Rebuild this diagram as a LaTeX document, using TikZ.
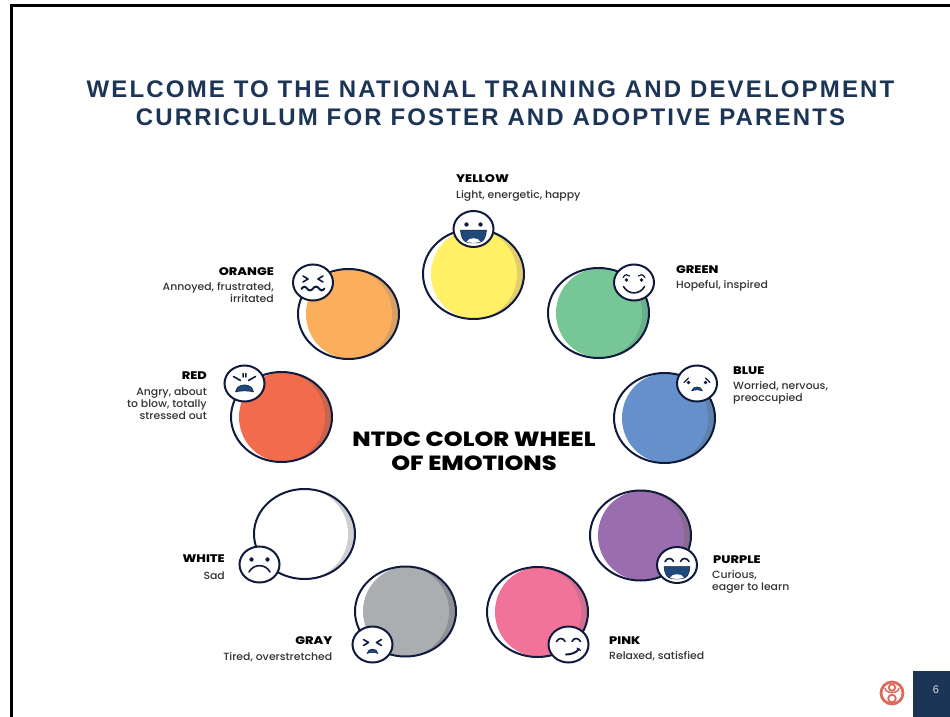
\documentclass[tikz,border=0pt]{standalone}
\usepackage{fontspec}
\setmainfont{Poppins Medium}[FakeStretch=1.04]
\newfontfamily\heavyfont{Poppins ExtraBold}[FakeStretch=1.17]
\newfontfamily\titlefont[LetterSpace=9]{Liberation Sans}
\newfontfamily\numfont{Liberation Sans}
\usetikzlibrary{shapes.geometric}
\definecolor{ink}{HTML}{0F1A3C}
\definecolor{navy}{HTML}{1C3557}
\definecolor{mouthblue}{HTML}{1D4A78}
\definecolor{logored}{HTML}{DE6A5A}
\tikzset{
  x=1pt,y=-1pt,
  outline/.style={draw=ink,line width=2pt},
  facebub/.style={ellipse,draw=ink,line width=2pt,fill=white,minimum width=40pt,minimum height=36pt,inner sep=0pt},
  feat/.style={draw=ink,line width=1.6pt,line cap=round,line join=round},
  mouthfill/.style={fill=mouthblue,draw=ink,line width=0.5pt,line join=round},
  lblname/.style={inner sep=0pt,font=\heavyfont\fontsize{11}{13}\selectfont,text=black},
  lbldesc/.style={inner sep=0pt,font=\fontsize{10.45}{12}\selectfont,text=black!80},
  headline/.style={inner sep=0pt,font=\titlefont\bfseries\fontsize{24}{28}\selectfont,text=navy},
  centre/.style={inner sep=0pt,align=center,font=\heavyfont\fontsize{20.5}{23.5}\selectfont,text=black}
}
% #1 name, #2 x, #3 y, #4 light colour, #5 dark colour
\newcommand{\wheeldisc}[5]{
  \definecolor{discl}{HTML}{#4}\definecolor{discd}{HTML}{#5}
  \begin{scope}[shift={(#2,#3)}]
    \fill[white] (0,0) ellipse [x radius=50.5,y radius=45];
    \begin{scope}
      \clip (0,0) ellipse [x radius=50.5,y radius=45];
      \fill[discd] (6,0) ellipse [x radius=48,y radius=45];
      \fill[discl] (0.5,0) ellipse [x radius=43,y radius=44.5];
    \end{scope}
    \node[ellipse,minimum width=101pt,minimum height=90pt,inner sep=0pt,outline] (#1) at (0,0) {};
  \end{scope}
}
\newcommand{\eyedots}[2]{\fill[ink] (-#1,#2) circle (2.2) (#1,#2) circle (2.2);}
\newcommand{\squint}[2]{\draw[feat] (-#1-3,#2-3) -- (-#1+2,#2) -- (-#1-3,#2+3) (#1+3,#2-3) -- (#1-2,#2) -- (#1+3,#2+3);}
\newcommand{\bigmouth}[2]{
  \draw[mouthfill] (-13,#1) .. controls (-12,#2+1) and (-5,#2) .. (0,#2) .. controls (5,#2) and (12,#2+1) .. (13,#1) -- cycle;
  \fill[white] (-7,#2-1.2) .. controls (-5,#2-6) and (5,#2-6) .. (7,#2-1.2) .. controls (3,#2+0.2) and (-3,#2+0.2) .. (-7,#2-1.2) -- cycle;
}
\newcommand{\sadmouth}[3]{\fill[mouthblue,draw=ink,line width=0.5pt,line join=round] (-#1,#2) .. controls (-#1+1,#3) and (#1-1,#3) .. (#1,#2) .. controls (#1/2,#2-1.5) and (-#1/2,#2-1.5) .. (-#1,#2) -- cycle;}
\begin{document}
\begin{tikzpicture}
\useasboundingbox (0,0) rectangle (950,717);
\fill[white] (0,0) rectangle (950,717);
\draw[black,line width=3pt] (11,717) -- (11,6) -- (950,6);

\node[headline] (title1) at (490.5,89) {WELCOME TO THE NATIONAL TRAINING AND DEVELOPMENT};
\node[headline] (title2) at (490.5,117) {CURRICULUM FOR FOSTER AND ADOPTIVE PARENTS};

\wheeldisc{yellow}{473.5}{274}{FFF066}{E2CE6C}
\wheeldisc{green}{598.5}{313}{76C795}{6BAE8B}
\wheeldisc{orange}{348.5}{314}{FBAE5C}{D7A065}
\wheeldisc{red}{281.5}{417}{F26B4C}{C8654F}
\wheeldisc{blue}{664.5}{418}{6590CC}{5F82AD}
\wheeldisc{purple}{640.5}{535.5}{9A6DAE}{896A92}
\wheeldisc{whitedisc}{304.5}{534}{FFFFFF}{CFCFD3}
\wheeldisc{gray}{405.5}{611.5}{ABAEB0}{8E9095}
\wheeldisc{pink}{537.5}{612}{F27399}{CF7090}

% faces
\node[facebub] (fyellow) at (473.5,229) {};
\begin{scope}[shift={(473.5,229)}]
  \eyedots{7}{-4.5}
  \bigmouth{1}{14}
\end{scope}
\node[facebub] (fgreen) at (634,282.5) {};
\begin{scope}[shift={(634,282.5)}]
  \draw[feat,line width=1.2pt] (-11,-5) .. controls (-9,-8.5) and (-6,-8.5) .. (-4.5,-6.5) (4.5,-6.5) .. controls (6,-8.5) and (9,-8.5) .. (11,-5);
  \fill[ink] (-7.5,-2.5) circle (1.8) (7.5,-2.5) circle (1.8);
  \draw[feat] (-10.5,4) .. controls (-6,12.5) and (6,12.5) .. (10.5,4);
\end{scope}
\node[facebub] (forange) at (313,282.5) {};
\begin{scope}[shift={(313,282.5)}]
  \squint{7}{-3.5}
  \draw[feat,line width=2pt] (-11.5,6.5) .. controls (-9.5,3.5) and (-8,3.5) .. (-6,6) .. controls (-4,8.5) and (-2,8.5) .. (0,6) .. controls (2,3.5) and (4,3.5) .. (6,6) .. controls (8,8.5) and (9.5,8.5) .. (11.5,6);
\end{scope}
\node[facebub] (fred) at (244.5,383.5) {};
\begin{scope}[shift={(244.5,383.5)}]
  \draw[feat] (-11,-7) -- (-4,-3) (11,-7) -- (4,-3) (-1.4,-10) -- (-1.4,-6.5) (1.4,-10) -- (1.4,-6.5);
  \sadmouth{9}{8.5}{-1}
\end{scope}
\node[facebub] (fblue) at (697,383.5) {};
\begin{scope}[shift={(697,383.5)}]
  \draw[feat,line width=1.3pt] (-13,-1) -- (-8.5,-5.5) (13,-1) -- (8.5,-5.5);
  \fill[ink] (-8.5,-1) circle (1.9) (8.5,-1) circle (1.9);
  \sadmouth{5.5}{7.5}{2}
\end{scope}
\node[facebub] (fpurple) at (677,565) {};
\begin{scope}[shift={(677,565)}]
  \draw[feat] (-12,-3.5) .. controls (-10,-7.5) and (-5,-7.5) .. (-3.5,-3.5) (3.5,-3.5) .. controls (5,-7.5) and (10,-7.5) .. (12,-3.5);
  \bigmouth{1.5}{14}
\end{scope}
\node[facebub] (fwhite) at (259.5,564.5) {};
\begin{scope}[shift={(259.5,564.5)}]
  \eyedots{8}{-5}
  \draw[feat] (-10.5,7.5) .. controls (-6,-1) and (6,-1) .. (10.5,7.5);
\end{scope}
\node[facebub] (fgray) at (372.5,644.5) {};
\begin{scope}[shift={(372.5,644.5)}]
  \squint{6}{-2}
  \sadmouth{5.5}{9}{3}
\end{scope}
\node[facebub] (fpink) at (568.5,644.5) {};
\begin{scope}[shift={(568.5,644.5)}]
  \draw[feat] (-12,-3) .. controls (-10,-7) and (-5,-7) .. (-3.5,-3) (3.5,-3) .. controls (5,-7) and (10,-7) .. (12,-3);
  \draw[feat,line width=2pt] (-2.5,10) .. controls (3,10) and (8,8) .. (10.5,4.5);
  \draw[feat,line width=1.2pt] (8.5,3.5) -- (12,6);
\end{scope}

% labels
\node[lblname,anchor=west] (lyellow) at (456,178.5) {YELLOW};
\node[lbldesc,anchor=west] (dyellow) at (456,195.5) {Light, energetic, happy};
\node[lblname,anchor=west] (lgreen) at (676,269.5) {GREEN};
\node[lbldesc,anchor=west] (dgreen) at (676,285.5) {Hopeful, inspired};
\node[lblname,anchor=east] (lorange) at (274,271.5) {ORANGE};
\node[lbldesc,anchor=north east,align=right] (dorange) at (274,282.5) {Annoyed, frustrated,\\irritated};
\node[lblname,anchor=east] (lred) at (207,375.5) {RED};
\node[lbldesc,anchor=north east,align=right] (dred) at (207,388) {Angry, about\\to blow, totally\\stressed out};
\node[lblname,anchor=west] (lblue) at (733,370.5) {BLUE};
\node[lbldesc,anchor=north west,align=left] (dblue) at (733,381.5) {Worried, nervous,\\preoccupied};
\node[lblname,anchor=west] (lpurple) at (713,559.5) {PURPLE};
\node[lbldesc,anchor=north west,align=left] (dpurple) at (712,570.5) {Curious,\\eager to learn};
\node[lblname,anchor=east] (lwhite) at (225,558.5) {WHITE};
\node[lbldesc,anchor=east] (dwhite) at (225,576) {Sad};
\node[lblname,anchor=east] (lgray) at (332.5,640.5) {GRAY};
\node[lbldesc,anchor=east] (dgray) at (332.5,657) {Tired, overstretched};
\node[lblname,anchor=west] (lpink) at (609,640.5) {PINK};
\node[lbldesc,anchor=west] (dpink) at (609,656) {Relaxed, satisfied};

\node[centre] (wheeltitle) at (474,451) {NTDC COLOR WHEEL\\OF EMOTIONS};

% footer
\fill[navy] (913,671) rectangle (950,717);
\node[inner sep=0pt,text=white!85!navy,font=\numfont\fontsize{11}{13}\selectfont] (pagenum) at (936,690) {6};
\draw[logored,line width=2.8pt] (892,693) circle (11);
\draw[logored,line width=1.8pt] (892,687.5) circle (3.2) (892,698.5) circle (3.8);
\draw[logored,line width=1.5pt] (885,688) .. controls (885,694) and (899,694) .. (899,688);
\end{tikzpicture}
\end{document}
